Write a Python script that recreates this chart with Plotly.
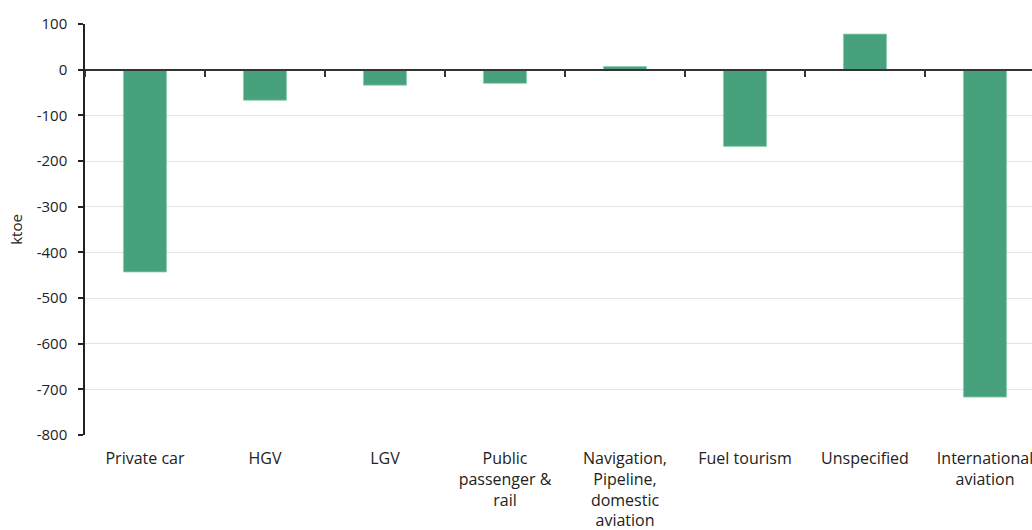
import plotly.graph_objects as go

categories = ["Private car", "HGV", "LGV", "Public<br>passenger &<br>rail",
              "Navigation,<br>Pipeline,<br>domestic<br>aviation",
              "Fuel tourism", "Unspecified", "International<br>aviation"]
values = [-443, -67, -34, -30, 7, -168, 78, -717]
y_ticks = [100, 0, -100, -200, -300, -400, -500, -600, -700, -800]
y_tick_text = ["100", "0", "-100", "-200", "-300", "-400", "-500", "-600", "-700", "-800"]

FONT = "Open Sans"
fig = go.Figure()
fig.add_trace(go.Bar(
    x=categories, y=values, width=0.36,
    marker=dict(color="#46a17c", line=dict(color="#8fcfb3", width=0.8)),
    showlegend=False, xaxis="x", yaxis="y",
))
# invisible trace to drive the zero-line tick axis
fig.add_trace(go.Bar(x=categories, y=[None]*len(categories), xaxis="x2", yaxis="y",
                     showlegend=False, hoverinfo="skip"))

xr = [-0.5, 7.5 - 13/120]
fig.update_layout(
    width=1032, height=530,
    margin=dict(l=85, r=0, t=24, b=95, autoexpand=False),
    paper_bgcolor="white", plot_bgcolor="white",
    font=dict(family=FONT, size=15, color="#222"),
    bargap=0.64,
    xaxis=dict(range=xr, showline=False, ticks="", showgrid=False,
               tickfont=dict(size=16, color="#222"), zeroline=False,
               tickangle=0, automargin=False, ticklabelstandoff=12),
    xaxis2=dict(range=xr, overlaying="x", anchor="free", position=800/900,
                showline=True, linecolor="#333", linewidth=2,
                ticks="outside", ticklen=6, tickwidth=1.5, tickcolor="#333",
                tickson="boundaries", showticklabels=False, showgrid=False,
                zeroline=False, automargin=False),
    yaxis=dict(range=[-800, 100], tickvals=y_ticks, ticktext=y_tick_text,
               showline=True, linecolor="#222", linewidth=1.5,
               ticks="outside", ticklen=5, tickwidth=1.5, tickcolor="#222",
               gridcolor="#e3e3e3", gridwidth=1,
               zeroline=False, automargin=False, ticklabelstandoff=8,
               tickfont=dict(size=15, color="#222"),
               title=dict(text="ktoe", font=dict(size=15, color="#222"), standoff=10)),
)
fig.write_html("out.html", config={"displayModeBar": False},
               post_script="document.body.style.margin='0';")
